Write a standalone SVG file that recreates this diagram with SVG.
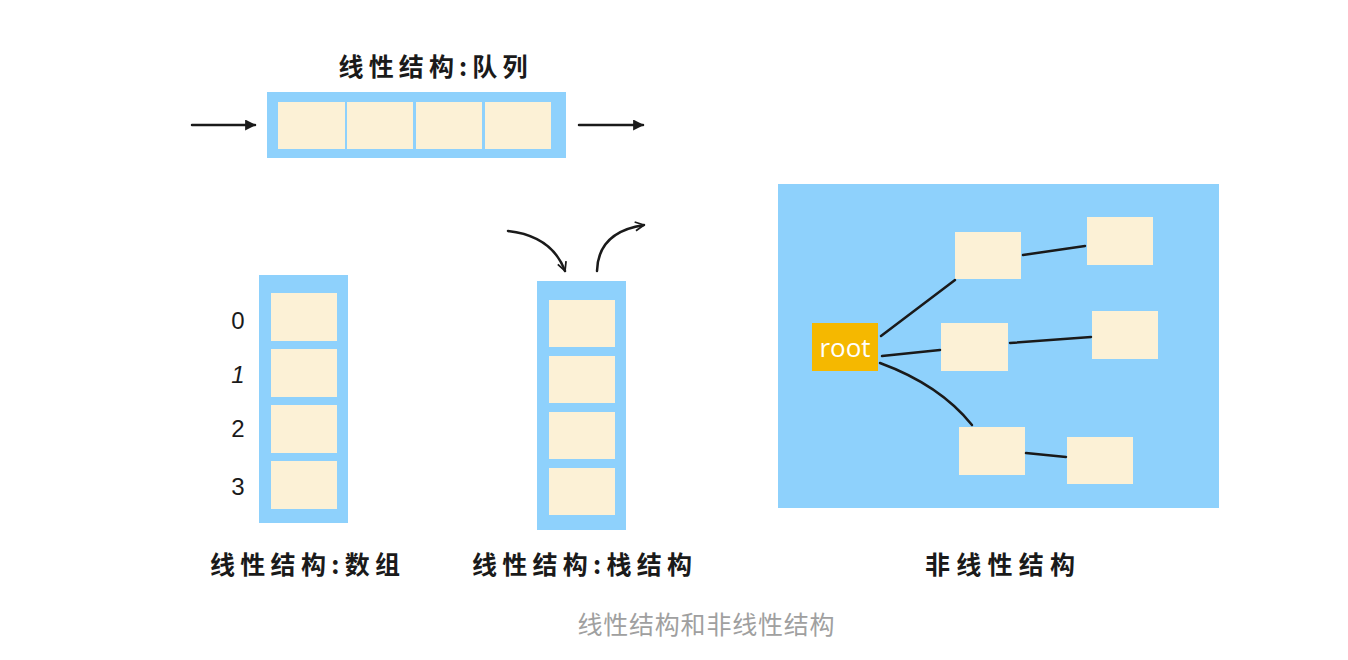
<svg xmlns="http://www.w3.org/2000/svg" width="1348" height="660" viewBox="0 0 1348 660">
<style>
.frame{fill:#8ed1fc}
.cell{fill:#fcf1d6}
.lbl{font-family:"Noto Sans CJK SC","Liberation Sans",sans-serif;font-size:25px;font-weight:700;fill:#1a1a1a}
.num{font-family:"Liberation Sans","Noto Sans",sans-serif;font-size:24px;fill:#1a1a1a}
.line{stroke:#1a1a1a;stroke-width:2.5;fill:none;stroke-linecap:round}
.cap{font-family:"Noto Sans CJK SC","Liberation Sans",sans-serif;font-size:25px;fill:#a0a0a0}
</style>
<defs>
<marker id="tri" viewBox="0 0 10 10" refX="9" refY="5" markerWidth="11" markerHeight="11" orient="auto" markerUnits="userSpaceOnUse">
<path d="M0,0 L10,5 L0,10 Z" fill="#1a1a1a"/>
</marker>
<marker id="chev" viewBox="0 0 10 10" refX="9" refY="5" markerWidth="11" markerHeight="11" orient="auto" markerUnits="userSpaceOnUse">
<path d="M1,1 L9,5 L1,9" fill="none" stroke="#1a1a1a" stroke-width="1.6"/>
</marker>
</defs>
<rect width="1348" height="660" fill="#ffffff"/>

<g id="queue">
<text class="lbl" x="433" y="76" text-anchor="middle" textLength="189" lengthAdjust="spacing">线性结构:队列</text>
<rect class="frame" x="267" y="92" width="299" height="66"/>
<rect class="cell" x="278" y="102" width="67" height="47"/>
<rect class="cell" x="347" y="102" width="66" height="47"/>
<rect class="cell" x="416" y="102" width="66" height="47"/>
<rect class="cell" x="485" y="102" width="66" height="47"/>
</g>

<g id="array">
<rect class="frame" x="259" y="275" width="89" height="248"/>
<rect class="cell" x="271" y="293" width="66" height="48"/>
<rect class="cell" x="271" y="349" width="66" height="48"/>
<rect class="cell" x="271" y="405" width="66" height="48"/>
<rect class="cell" x="271" y="461" width="66" height="48"/>
<text class="num" x="238" y="329" text-anchor="middle">0</text>
<text class="num" x="238" y="383" text-anchor="middle" font-style="italic">1</text>
<text class="num" x="238" y="437" text-anchor="middle">2</text>
<text class="num" x="238" y="495" text-anchor="middle">3</text>
<text class="lbl" x="305" y="574" text-anchor="middle" textLength="190" lengthAdjust="spacing">线性结构:数组</text>
</g>

<g id="stack">
<rect class="frame" x="537" y="281" width="89" height="249"/>
<rect class="cell" x="549" y="300" width="66" height="47"/>
<rect class="cell" x="549" y="356" width="66" height="47"/>
<rect class="cell" x="549" y="412" width="66" height="47"/>
<rect class="cell" x="549" y="468" width="66" height="47"/>
<text class="lbl" x="582" y="574" text-anchor="middle" textLength="220" lengthAdjust="spacing">线性结构:栈结构</text>
</g>

<g id="tree">
<rect class="frame" x="778" y="184" width="441" height="324"/>
<g id="root">
<rect x="812" y="323" width="66" height="48" fill="#f5b800"/>
<text x="845" y="357" text-anchor="middle" font-family="'Open Sans','Liberation Sans',sans-serif" font-size="26" font-weight="500" fill="#ffffff">root</text>
</g>
<rect id="nA" class="cell" x="955" y="232" width="66" height="47"/>
<rect id="nB" class="cell" x="1087" y="217" width="66" height="48"/>
<rect id="nC" class="cell" x="941" y="323" width="67" height="48"/>
<rect id="nD" class="cell" x="1092" y="311" width="66" height="48"/>
<rect id="nE" class="cell" x="959" y="427" width="66" height="48"/>
<rect id="nF" class="cell" x="1067" y="437" width="66" height="47"/>
<text class="lbl" x="1000" y="574" text-anchor="middle" textLength="150" lengthAdjust="spacing">非线性结构</text>
</g>

<g id="connectors">
<line class="line" x1="192" y1="125" x2="255" y2="125" marker-end="url(#tri)"/>
<line class="line" x1="579" y1="125" x2="643" y2="125" marker-end="url(#tri)"/>
<path class="line" d="M508,231 Q552,236 565,271" marker-end="url(#chev)"/>
<path class="line" d="M597,271 Q598,232 644,225" marker-end="url(#chev)"/>
<path class="line" d="M881,336 L955,280"/>
<path class="line" d="M1023,255 L1085,246"/>
<path class="line" d="M882,356 L940,350"/>
<path class="line" d="M1010,343 L1091,337"/>
<path class="line" d="M880,363 Q940,385 972,425"/>
<path class="line" d="M1026,453 L1066,457"/>
</g>

<text class="cap" x="706" y="634" text-anchor="middle" textLength="257" lengthAdjust="spacing">线性结构和非线性结构</text>
</svg>
